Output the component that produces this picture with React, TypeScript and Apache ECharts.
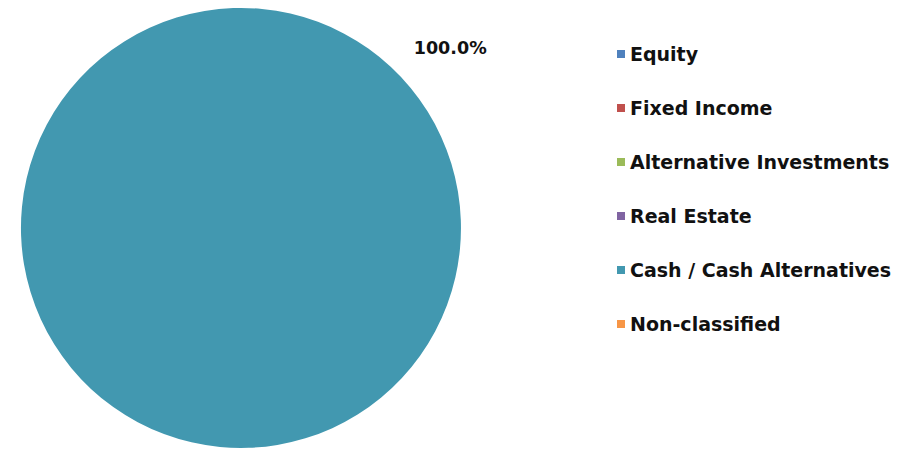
import React, { useEffect, useRef } from "react";
import * as echarts from "echarts";

const categories = [
  "Equity",
  "Fixed Income",
  "Alternative Investments",
  "Real Estate",
  "Cash / Cash Alternatives",
  "Non-classified",
];
const values = [0, 0, 0, 0, 100, 0];
const colors = ["#4f81bd", "#c0504d", "#9bbb59", "#8064a2", "#4298b0", "#f79646"];

export default function App() {
  const ref = useRef<HTMLDivElement>(null);
  useEffect(() => {
    if (!ref.current) return;
    const chart = echarts.init(ref.current, undefined, { renderer: "svg" });
    const font = "'DejaVu Sans', sans-serif";
    chart.setOption({
      animation: false,
      backgroundColor: "#ffffff",
      color: colors,
      legend: {
        orient: "vertical",
        left: 612,
        top: 38,
        icon: "rect",
        itemWidth: 8,
        itemHeight: 8,
        itemGap: 32,
        selectedMode: false,
        textStyle: {
          fontFamily: font,
          fontWeight: "bold",
          fontSize: 19,
          lineHeight: 22,
          color: "#111",
          padding: [0, 0, 0, 0],
        },
        data: categories,
      },
      series: [
        {
          type: "pie",
          center: [241, 228],
          radius: 220,
          startAngle: 227,
          avoidLabelOverlap: false,
          label: {
            show: true,
            position: "outside",
            formatter: (p: any) => p.percent.toFixed(1) + "%",
            fontFamily: font,
            fontWeight: "bold",
            fontSize: 17.5,
            color: "#111",
          },
          labelLine: { show: false, length: 26, length2: 0 },
          emphasis: { disabled: true },
          data: categories.map((name, i) => ({
            name,
            value: values[i],
            label: { show: values[i] > 0 },
          })),
        },
      ],
    });
    return () => chart.dispose();
  }, []);
  return (
    <div
      ref={ref}
      style={{ position: "absolute", left: 0, top: 0, width: 917, height: 449 }}
    />
  );
}
